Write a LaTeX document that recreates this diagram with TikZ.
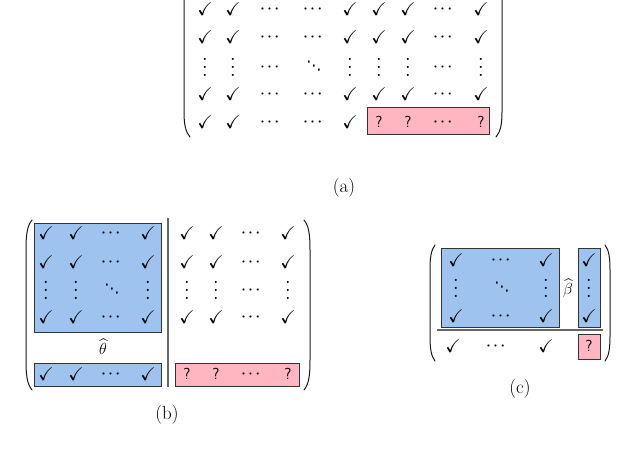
\documentclass[tikz,border=0pt]{standalone}
\usepackage{fix-cm}
\usepackage{amsmath,amssymb}
\definecolor{bluefill}{HTML}{9DC3EE}
\definecolor{pinkfill}{HTML}{FFB6C1}
\newcommand{\ck}{\raisebox{-6.5pt}{\fontsize{18.5}{21}\selectfont$\checkmark$}}
\newcommand{\hd}{\raisebox{-3.5pt}{\fontsize{14}{17}\selectfont\boldmath$\cdots$}}
\newcommand{\vd}{\raisebox{-9pt}{\scalebox{2}{\fontsize{10}{12}\selectfont$\vdots$}}}
\newcommand{\dd}{\raisebox{-6.3pt}{\scalebox{0.85}[1.4]{\fontsize{14}{16}\selectfont\bfseries$\ddots$}}}
\newcommand{\qm}{\raisebox{-5.5pt}{\fontsize{16}{18}\selectfont\sffamily ?}}
\newcommand{\cellrow}[3]{\foreach \x/\cont [count=\i] in {#3} \node[cell] (#1-\i) at (\x,#2) {\cont};}
\tikzset{
  cell/.style={inner sep=0pt,text height=0pt,text depth=0pt},
  caption/.style={inner sep=0pt,font=\fontsize{19}{22}\selectfont},
  hatlabel/.style={inner sep=0pt,font=\fontsize{16}{19}\selectfont},
  bluebox/.style={draw=black!80,line width=0.9pt,fill=bluefill},
  pinkbox/.style={draw=black!80,line width=0.9pt,fill=pinkfill},
  paren/.style={draw=black!90,line width=1pt,line cap=round},
  rulegray/.style={draw=black!60,line width=1.1pt}
}
\begin{document}
\begin{tikzpicture}[x=1pt,y=-1pt]
\useasboundingbox (0,0) rectangle (640,450);
% ---------- (a)
\path[pinkbox] (367,107) rectangle (489,134);
\cellrow{ar1}{9}{205/\ck,233/\ck,271/\hd,314/\hd,350/\ck,379/\ck,408/\ck,444/\hd,481/\ck}
\cellrow{ar2}{37}{205/\ck,233/\ck,271/\hd,314/\hd,350/\ck,379/\ck,408/\ck,444/\hd,481/\ck}
\cellrow{ar3}{67}{205/\vd,233/\vd,271/\hd,314/\dd,350/\vd,379/\vd,408/\vd,444/\hd,481/\vd}
\cellrow{ar4}{94}{205/\ck,233/\ck,271/\hd,314/\hd,350/\ck,379/\ck,408/\ck,444/\hd,481/\ck}
\cellrow{ar5}{122}{205/\ck,233/\ck,271/\hd,314/\hd,350/\ck,379/\qm,408/\qm,444/\hd,481/\qm}
\path[paren] (184,-6) -- (184,112) .. controls (184,126) and (186,132) .. (190,137);
\path[paren] (502,-6) -- (502,112) .. controls (502,126) and (500,132) .. (496,137);
\node[caption] (capa) at (344,188) {(a)};
% ---------- (b)
\path[bluebox] (34,223) rectangle (161,332);
\path[bluebox] (34,363) rectangle (161,386);
\path[pinkbox] (175,363) rectangle (299,386);
\path[rulegray] (168,218) -- (168,387);
\cellrow{bl1}{233}{46/\ck,76/\ck,112/\hd,148/\ck}
\cellrow{bl2}{262}{46/\ck,76/\ck,112/\hd,148/\ck}
\cellrow{bl3}{290}{46/\vd,76/\vd,112/\dd,148/\vd}
\cellrow{bl4}{317}{46/\ck,76/\ck,112/\hd,148/\ck}
\cellrow{bl5}{374}{46/\ck,76/\ck,112/\hd,148/\ck}
\cellrow{br1}{233}{187/\ck,216/\ck,252/\hd,288/\ck}
\cellrow{br2}{262}{187/\ck,216/\ck,252/\hd,288/\ck}
\cellrow{br3}{290}{187/\vd,216/\vd,252/\hd,288/\vd}
\cellrow{br4}{317}{187/\ck,216/\ck,252/\hd,288/\ck}
\cellrow{br5}{374}{187/\qm,216/\qm,252/\hd,288/\qm}
\node[hatlabel] (theta) at (103,347) {$\widehat{\theta}$};
\path[paren] (32,220) .. controls (27,226) and (26,235) .. (26,250) -- (26,360) .. controls (26,375) and (27,384) .. (32,390);
\path[paren] (304,220) .. controls (309,226) and (310,235) .. (310,250) -- (310,360) .. controls (310,375) and (309,384) .. (304,390);
\node[caption] (capb) at (167,415) {(b)};
% ---------- (c)
\path[bluebox] (441,248) rectangle (559,327);
\path[bluebox] (578,248) rectangle (600,327);
\path[pinkbox] (578,334) rectangle (600,359);
\path[rulegray] (437,330) -- (603,330);
\cellrow{cl1}{260}{456/\ck,502/\hd,546/\ck,589/\ck}
\cellrow{cl2}{288}{456/\vd,502/\dd,546/\vd,589/\vd}
\cellrow{cl3}{316}{456/\ck,502/\hd,546/\ck,589/\ck}
\cellrow{cl4}{346}{453/\ck,497/\hd,546/\ck,589/\qm}
\node[hatlabel] (beta) at (568,288) {$\widehat{\beta}$};
\path[paren] (435,245) .. controls (431,250) and (430,258) .. (430,270) -- (430,336) .. controls (430,348) and (431,356) .. (435,361);
\path[paren] (605,245) .. controls (609,250) and (610,258) .. (610,270) -- (610,336) .. controls (610,348) and (609,356) .. (605,361);
\node[caption] (capc) at (520,389) {(c)};
\end{tikzpicture}
\end{document}
